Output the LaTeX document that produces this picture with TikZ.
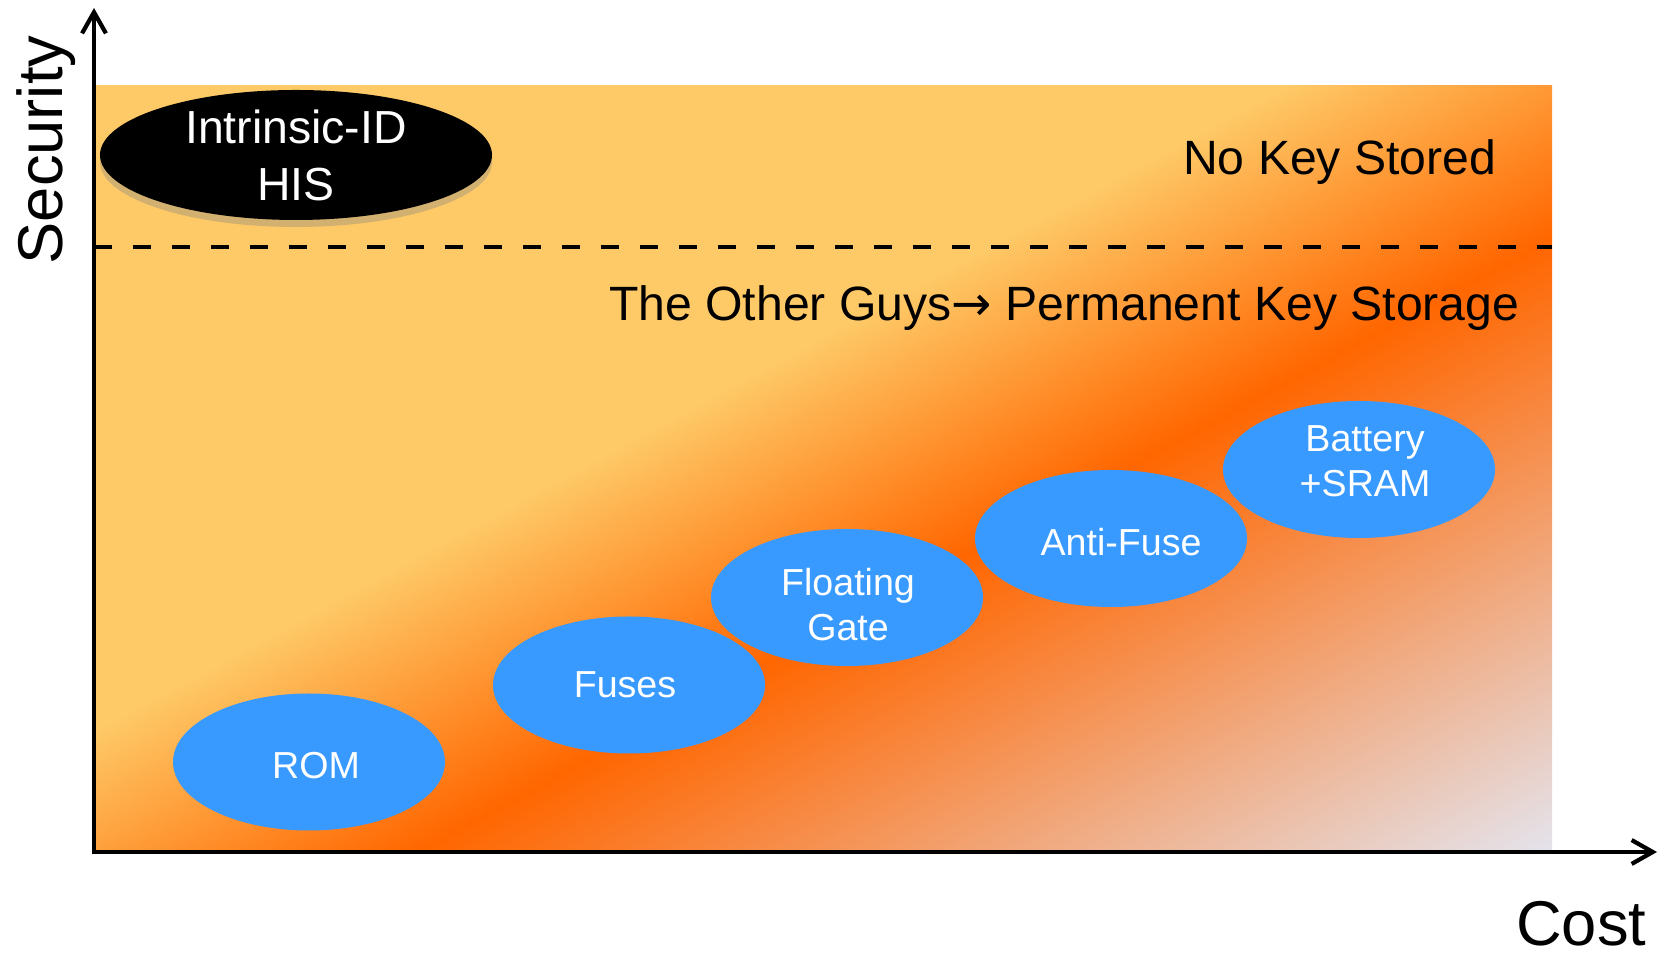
\documentclass[tikz,border=0pt]{standalone}
\usepackage{fontspec}
\setmainfont{Liberation Sans}
\newfontfamily\arrowfont{DejaVu Sans}
\usepackage{tikz}
\usetikzlibrary{shapes.geometric,arrows.meta,shadows}

\definecolor{bgyellow}{RGB}{254,202,104}
\definecolor{bgorange}{RGB}{255,102,0}
\definecolor{bgpale}{RGB}{228,228,238}
\definecolor{keyblue}{RGB}{56,154,255}

\pgfdeclarehorizontalshading{bgfade}{100bp}{color(0bp)=(bgyellow); color(46bp)=(bgyellow); color(54.8bp)=(bgorange); color(73bp)=(bgpale); color(100bp)=(bgpale)}

\begin{document}
\begin{tikzpicture}[
    storage/.style={ellipse, fill=keyblue, minimum width=2.72cm, minimum height=1.37cm, inner sep=0pt},
    storagetext/.style={text=white, inner sep=0pt, align=center, font=\fontsize{10.7}{12.7}\selectfont},
    his/.style={ellipse, fill=black, text=white, minimum width=3.92cm, minimum height=1.30cm,
        inner sep=0pt, align=center, font=\fontsize{13.2}{16.2}\selectfont,
        drop shadow={shadow xshift=0pt, shadow yshift=-2pt, opacity=0.35}},
    zonetext/.style={inner sep=0pt, anchor=base east, font=\fontsize{13.7}{16}\selectfont},
    axisname/.style={inner sep=0pt, font=\fontsize{18}{20}\selectfont},
    axisline/.style={line width=1.2pt, line join=miter,
        {Straight Barb[length=6pt,width=6.8pt]}-{Straight Barb[length=6pt,width=6.8pt]}}
]
    \useasboundingbox (0,0) rectangle (16.58,9.56);

    % background
    \begin{scope}
        \clip (0.94,1.04) rectangle (15.52,8.70);
        \shade[shading=bgfade, shading angle=-61.6] (0.73,-2.63) rectangle (15.73,12.37);
    \end{scope}

    % axes
    \coordinate (origin) at (0.94,1.04);
    \coordinate (ytip) at (0.94,9.48);
    \coordinate (xtip) at (16.57,1.04);
    \coordinate (dashleft) at (0.94,7.09);
    \coordinate (dashright) at (15.52,7.09);
    \draw[line width=1.15pt, dash pattern=on 5.1pt off 6pt] (dashleft) -- (dashright);
    \draw[axisline] (ytip) -- (origin) -- (xtip);
    \node[axisname, rotate=90, anchor=base] (security) at (0.62,8.06) {Security};
    \node[axisname, anchor=base east] (cost) at (16.47,0.11) {Cost};

    % zones
    \node[zonetext] (nokey) at (14.97,7.81) {No Key Stored};
    \node[zonetext] (otherguys) at (15.20,6.35) {The Other Guys{\arrowfont →} Permanent Key Storage};

    % storage types
    \node[his] (intrinsic) at (2.96,8.01) {Intrinsic-ID\\HIS};
    \node[storage] (rom) at (3.09,1.94) {};
    \node[storage] (fuses) at (6.29,2.71) {};
    \node[storage] (floating) at (8.47,3.585) {};
    \node[storage] (antifuse) at (11.11,4.175) {};
    \node[storage] (battery) at (13.59,4.865) {};
    \node[storagetext] (romtext) at ([shift={(0.07,-0.04)}]rom.center) {ROM};
    \node[storagetext] (fusestext) at ([shift={(-0.04,0)}]fuses.center) {Fuses};
    \node[storagetext] (floatingtext) at ([shift={(0.01,-0.07)}]floating.center) {Floating\\Gate};
    \node[storagetext] (antifusetext) at ([shift={(0.10,-0.04)}]antifuse.center) {Anti-Fuse};
    \node[storagetext] (batterytext) at ([shift={(0.06,0.08)}]battery.center) {Battery\\+SRAM};
\end{tikzpicture}
\end{document}
